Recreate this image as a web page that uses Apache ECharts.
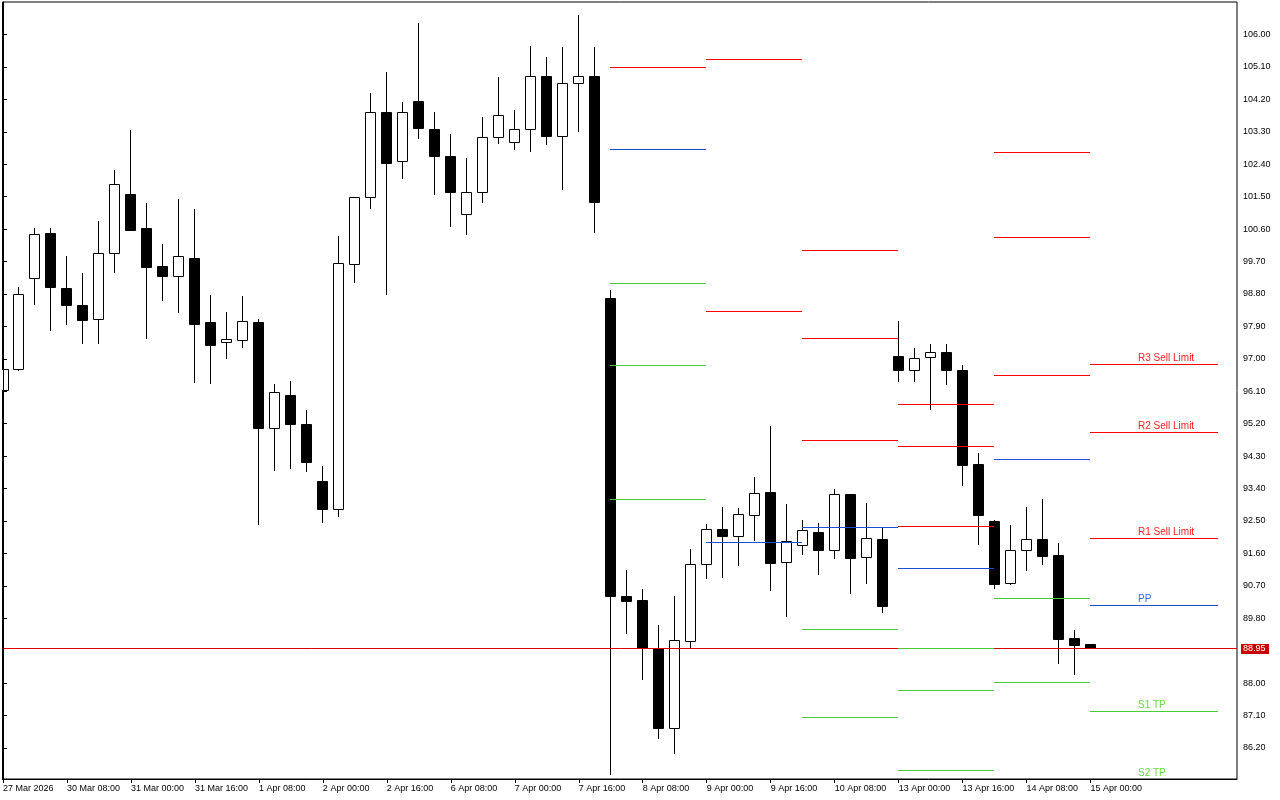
<!DOCTYPE html>
<html><head><meta charset="utf-8">
<script src="https://cdn.jsdelivr.net/npm/echarts@6/dist/echarts.min.js"></script>
<style>html,body{margin:0;padding:0;background:#fff}#c{width:1280px;height:800px}</style>
</head><body><div id="c"></div>
<script>
// ---- candle data (H4) ----
const opens  = [96.12,96.69,99.22,100.47,98.94,98.47,98.08,99.91,101.56,100.61,99.55,99.28,99.77,98.00,97.44,97.50,98.00,95.07,95.97,95.18,93.59,92.82,99.61,101.47,103.83,102.47,104.14,103.36,102.61,101.00,101.61,103.14,102.99,103.36,104.83,103.16,104.63,104.83,98.66,90.40,90.29,88.95,86.73,89.14,91.28,92.25,92.06,92.64,93.29,91.34,91.81,92.17,91.67,93.22,91.48,91.98,97.06,96.67,97.04,97.17,96.67,94.07,92.48,90.75,91.67,91.98,91.54,89.24,89.07];
const highs  = [96.80,98.97,100.61,100.61,99.84,99.36,100.81,102.22,103.34,101.31,100.16,101.41,101.13,98.75,98.28,98.72,98.08,96.29,96.37,95.56,94.01,100.39,101.47,104.36,104.95,104.11,106.31,103.84,103.22,102.56,103.70,104.81,103.89,105.67,105.36,105.64,106.53,105.64,98.89,91.12,90.60,89.60,90.40,91.71,92.40,92.87,92.84,93.70,95.12,92.95,92.51,92.43,93.37,93.22,92.98,92.31,98.03,97.29,97.40,97.40,96.80,94.37,92.51,92.37,92.87,93.09,91.87,89.46,89.07];
const lows   = [96.00,96.67,98.51,97.79,97.96,97.43,97.43,99.40,100.55,97.57,98.63,98.29,96.35,96.32,97.02,97.32,92.39,93.91,93.96,93.88,92.46,92.63,99.13,101.18,98.79,102.01,103.12,101.57,100.68,100.46,101.35,102.98,102.82,102.76,102.96,101.71,103.32,100.51,85.47,89.38,88.11,86.47,86.05,88.95,90.91,90.94,91.27,91.96,90.58,89.86,91.58,91.02,91.47,90.49,90.77,89.97,96.38,96.38,95.60,96.28,93.49,91.85,90.63,90.73,91.13,91.30,88.55,88.25,88.95];
const closes = [96.69,98.78,100.44,98.97,98.49,98.07,99.91,101.83,100.57,99.54,99.29,99.83,97.96,97.38,97.53,98.03,95.07,96.06,95.18,94.13,92.82,99.64,101.47,103.83,102.43,103.83,103.40,102.62,101.62,101.61,103.13,103.74,103.36,104.83,103.18,104.63,104.83,101.35,90.41,90.27,88.95,86.73,89.18,91.28,92.25,92.08,92.67,93.25,91.33,91.92,92.23,91.69,93.22,91.47,92.00,90.13,96.67,97.00,97.17,96.68,94.05,92.66,90.73,91.67,91.98,91.52,89.22,89.05,88.95];
const lastPrice = 88.95;

// ---- axis ticks ----
const xTickIndex  = [0,4,8,12,16,20,24,28,32,36,40,44,48,52,56,60,64,68];
const xTickLabels = ['27 Mar 2026','30 Mar 08:00','31 Mar 00:00','31 Mar 16:00','1 Apr 08:00','2 Apr 00:00','2 Apr 16:00','6 Apr 08:00','7 Apr 00:00','7 Apr 16:00','8 Apr 08:00','9 Apr 00:00','9 Apr 16:00','10 Apr 08:00','13 Apr 00:00','13 Apr 16:00','14 Apr 08:00','15 Apr 00:00'];
const yTicks = [106.00,105.10,104.20,103.30,102.40,101.50,100.60,99.70,98.80,97.90,97.00,96.10,95.20,94.30,93.40,92.50,91.60,90.70,89.80,88.00,87.10,86.20];

// ---- daily pivot levels ----
const levelStart = [38,44,50,56,62,68];
const levelEnd   = [44,50,56,62,68,76];
const levelR3 = [null,null,100.00,95.72,102.72,96.83];
const levelR2 = [null,105.30,97.55,94.56,100.36,94.95];
const levelR1 = [105.08,98.30,94.72,92.34,96.53,92.01];
const levelPP = [102.80,91.89,92.31,91.17,94.20,90.14];
const levelS1 = [99.08,null,89.48,88.95,90.34,87.20];
const levelS2 = [96.80,null,87.04,87.78,88.01,85.33];
const levelS3 = [93.09,null,null,85.56,null,null];
const levelLabels = {R3:'R3 Sell Limit',R2:'R2 Sell Limit',R1:'R1 Sell Limit',PP:'PP',S1:'S1 TP',S2:'S2 TP'};
const labelAnchorIndex = 71;

const FONT = 'Liberation Sans, Arial, sans-serif';
const lineColor = {R:'#ff0000', P:'#1c4fd6', S:'#46cc3a'};
const textColor = {R:'#ff2020', P:'#2f6cf5', S:'#66dd3a'};

const candleData = opens.map((o,i)=>[i,o,highs[i],lows[i],closes[i]]);

const levelRows = [];
const levelMeta = [];
const sets = [['R3',levelR3],['R2',levelR2],['R1',levelR1],['PP',levelPP],['S1',levelS1],['S2',levelS2],['S3',levelS3]];
levelStart.forEach((s,d)=>{
  sets.forEach(([name,arr])=>{
    if(arr[d]==null) return;
    levelRows.push([s, levelEnd[d], arr[d]]);
    levelMeta.push({kind:name[0], label: d===levelStart.length-1 ? (levelLabels[name]||'') : ''});
  });
});

const snap = v => Math.floor(v) + 0.5;

const chart = echarts.init(document.getElementById('c'), null, {renderer:'canvas'});
chart.setOption({
  animation:false,
  backgroundColor:'#ffffff',
  grid:{left:2, right:43, top:2, bottom:21, show:true, borderColor:'#000', borderWidth:1, backgroundColor:'#fff'},
  xAxis:{
    type:'value', min:-0.03125, max:77.15625, z:10,
    axisLine:{show:true, lineStyle:{color:'#000', width:1}},
    axisTick:{show:true, length:4, lineStyle:{color:'#000'}, customValues:xTickIndex},
    axisLabel:{show:true, customValues:xTickIndex, align:'left', margin:5, color:'#000', fontSize:9, fontFamily:FONT,
      formatter:v=>{const k=xTickIndex.indexOf(Math.round(v)); return k>=0?xTickLabels[k]:'';}},
    splitLine:{show:false}
  },
  yAxis:{
    type:'value', position:'right', min:85.337, max:106.902, z:10,
    axisLine:{show:true, lineStyle:{color:'#000', width:1}},
    axisTick:{show:true, length:4, lineStyle:{color:'#000'}, customValues:yTicks},
    axisLabel:{show:true, customValues:yTicks, margin:6, color:'#000', fontSize:9, fontFamily:FONT,
      formatter:v=>v.toFixed(2)},
    splitLine:{show:false}
  },
  series:[
    {
      type:'custom', name:'candles', data:candleData, encode:{x:0, y:[1,2,3,4]}, z:2, clip:true,
      renderItem:function(params, api){
        const i=api.value(0), o=api.value(1), h=api.value(2), l=api.value(3), c=api.value(4);
        const pO=api.coord([i,o]), pC=api.coord([i,c]), pH=api.coord([i,h]), pL=api.coord([i,l]);
        const cx=snap(pO[0]);
        const half=Math.round(api.size([1,0])[0]*0.3125);
        const yTop=snap(Math.min(pO[1],pC[1])), yBot=snap(Math.max(pO[1],pC[1]));
        const up=c>=o;
        return {type:'group', children:[
          {type:'line', shape:{x1:cx, y1:Math.floor(pH[1]), x2:cx, y2:Math.floor(pL[1])+1}, style:{stroke:'#000', lineWidth:1}},
          {type:'rect', shape:{x:cx-half, y:yTop, width:half*2, height:Math.max(yBot-yTop,0)}, style:{fill:up?'#fff':'#000', stroke:'#000', lineWidth:1}}
        ]};
      }
    },
    {
      type:'custom', name:'price', data:[[0,lastPrice]], encode:{x:0,y:1}, z:3, clip:false,
      renderItem:function(params, api){
        const cs=params.coordSys;
        const p=api.coord([0, api.value(1)]);
        const y=snap(p[1]);
        const right=cs.x+cs.width;
        return {type:'group', children:[
          {type:'line', shape:{x1:cs.x, y1:y, x2:right, y2:y}, style:{stroke:'#dd0000', lineWidth:1}},
          {type:'rect', shape:{x:right+4, y:Math.floor(p[1])-4, width:28, height:10}, style:{fill:'#c80000'}},
          {type:'text', x:right+6, y:Math.floor(p[1])+1, style:{text:api.value(1).toFixed(2), fill:'#fff', font:'9px '+FONT, verticalAlign:'middle', align:'left'}}
        ]};
      }
    },
    {
      type:'custom', name:'levels', data:levelRows, encode:{x:[0,1], y:2}, z:4, clip:false,
      renderItem:function(params, api){
        const meta=levelMeta[params.dataIndex];
        const p1=api.coord([api.value(0), api.value(2)]);
        const p2=api.coord([api.value(1), api.value(2)]);
        const y=snap(p1[1]);
        const children=[{type:'line', shape:{x1:Math.floor(p1[0]), y1:y, x2:Math.floor(p2[0]), y2:y}, style:{stroke:lineColor[meta.kind], lineWidth:1}}];
        if(meta.label){
          const pa=api.coord([labelAnchorIndex, api.value(2)]);
          children.push({type:'text', x:Math.floor(pa[0]), y:y-1.5, style:{text:meta.label, fill:textColor[meta.kind], font:'10px '+FONT, verticalAlign:'bottom', align:'left'}});
        }
        return {type:'group', children};
      }
    }
  ]
});
</script>
</body></html>
